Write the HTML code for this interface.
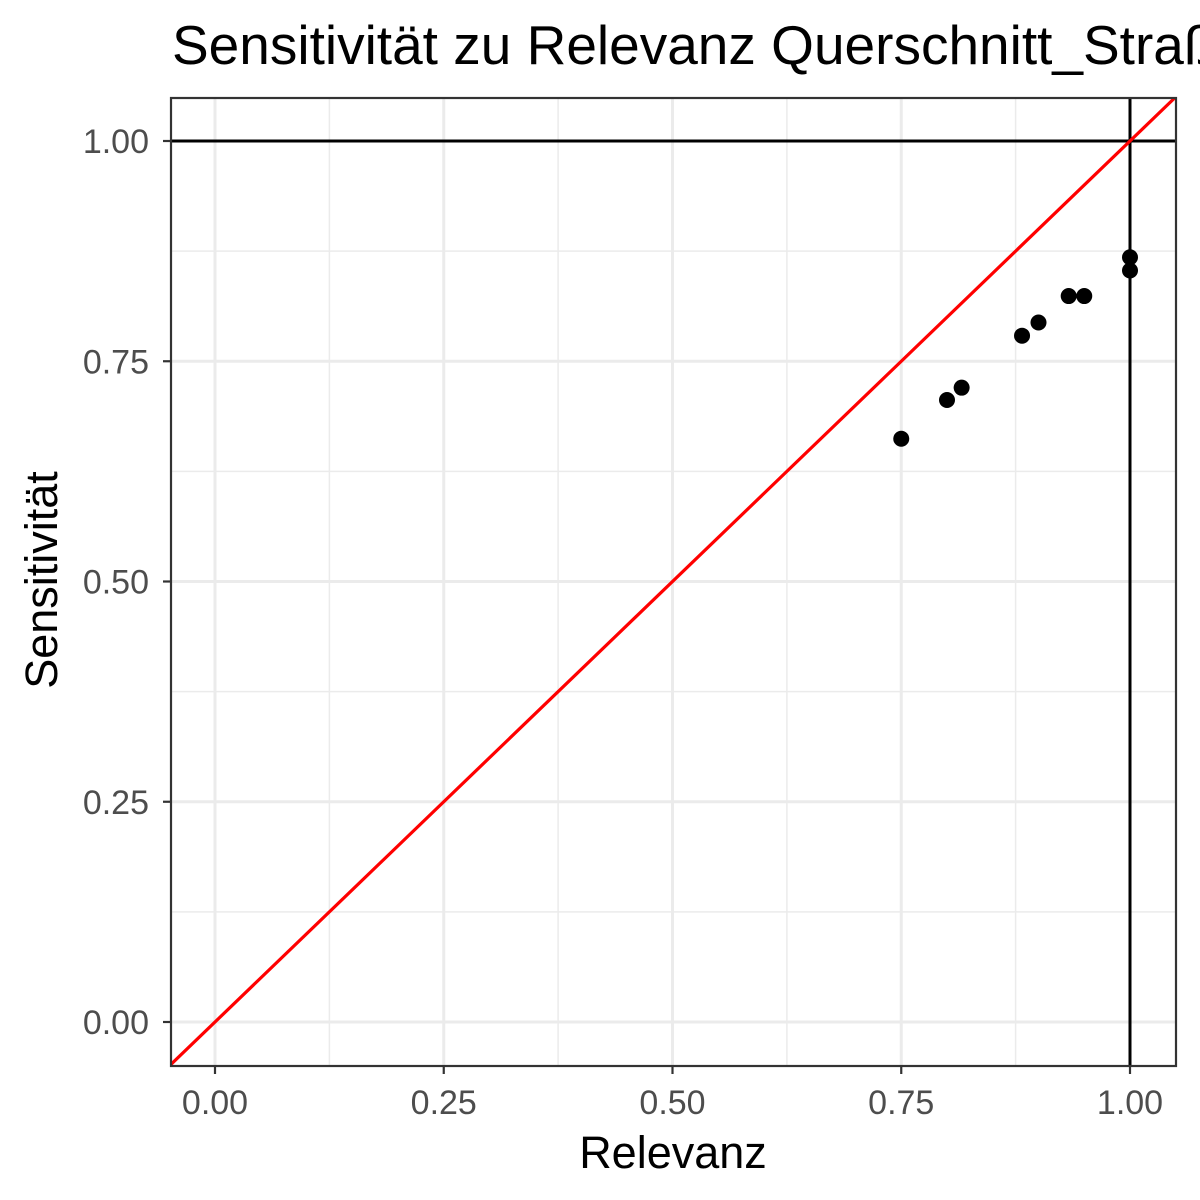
<!DOCTYPE html>
<html><head><meta charset="utf-8"><style>
html,body{margin:0;padding:0;background:#fff;}
svg{display:block;font-family:"Liberation Sans",Arial,sans-serif;}
</style></head><body>
<svg id="chart" width="1200" height="1200" viewBox="0 0 1200 1200">
<text x="172" y="64" font-size="55" fill="#000">Sensitivität zu Relevanz Querschnitt_Straße</text>
<defs><clipPath id="pc"><rect x="171" y="98" width="1005" height="968"/></clipPath></defs>
<rect x="171" y="98" width="1005" height="968" fill="#fff"/>
<g id="grid" clip-path="url(#pc)"></g>
<g id="marks" clip-path="url(#pc)"></g>
<rect x="171" y="98" width="1005" height="968" fill="none" stroke="#333" stroke-width="2.2"/>
<g id="axes"></g>
<text x="673" y="1168" font-size="45" text-anchor="middle" fill="#000">Relevanz</text>
<text transform="translate(57,580) rotate(-90)" font-size="45" text-anchor="middle" fill="#000">Sensitivität</text>
</svg>
<script>
const relevanz = [0.75, 0.8, 0.816, 0.882, 0.9, 0.933, 0.95, 1.0, 1.0];
const sensitivitaet = [0.662, 0.706, 0.72, 0.779, 0.794, 0.824, 0.824, 0.868, 0.853];
const tickValues = [0, 0.25, 0.5, 0.75, 1];
const tickLabels = ["0.00", "0.25", "0.50", "0.75", "1.00"];
const minorValues = [0.125, 0.375, 0.625, 0.875];
const refLineX = 1, refLineY = 1;

const NS = "http://www.w3.org/2000/svg";
const X0 = 215, X1 = 1130, Y0 = 1022, Y1 = 141;
const sx = v => X0 + (X1 - X0) * v;
const sy = v => Y0 + (Y1 - Y0) * v;
function mk(tag, attrs, parent) {
  const e = document.createElementNS(NS, tag);
  for (const k in attrs) e.setAttribute(k, attrs[k]);
  parent.appendChild(e); return e;
}
const grid = document.getElementById('grid'), marks = document.getElementById('marks'), axes = document.getElementById('axes');
minorValues.forEach(v => {
  let l = mk('line', {x1: sx(v), x2: sx(v), y1: 98, y2: 1066, stroke: '#ebebeb', 'stroke-width': 1.5}, grid);
  
  
  l = mk('line', {x1: 171, x2: 1176, y1: sy(v), y2: sy(v), stroke: '#ebebeb', 'stroke-width': 1.5}, grid);
  
  
});
tickValues.forEach((v, i) => {
  let l = mk('line', {x1: sx(v), x2: sx(v), y1: 98, y2: 1066, stroke: '#ebebeb', 'stroke-width': 3}, grid);
  
  
  l = mk('line', {x1: 171, x2: 1176, y1: sy(v), y2: sy(v), stroke: '#ebebeb', 'stroke-width': 3}, grid);
  
  
  let t = mk('line', {x1: sx(v), x2: sx(v), y1: 1066, y2: 1074, stroke: '#333', 'stroke-width': 2.2}, axes);
  
  
  t = mk('line', {x1: 163, x2: 171, y1: sy(v), y2: sy(v), stroke: '#333', 'stroke-width': 2.2}, axes);
  
  
  let tx = mk('text', {x: sx(v), y: 1114, 'font-size': 34, fill: '#4d4d4d', 'text-anchor': 'middle'}, axes);
  tx.textContent = tickLabels[i];
  
  
  tx = mk('text', {x: 149, y: sy(v) + 12, 'font-size': 34, fill: '#4d4d4d', 'text-anchor': 'end'}, axes);
  tx.textContent = tickLabels[i];
  
  
});
let h = mk('line', {x1: 171, x2: 1176, y1: sy(refLineY), y2: sy(refLineY), stroke: '#000', 'stroke-width': 3}, marks);


let vl = mk('line', {x1: sx(refLineX), x2: sx(refLineX), y1: 98, y2: 1066, stroke: '#000', 'stroke-width': 3}, marks);


relevanz.forEach((r, i) => {
  const c = mk('circle', {cx: sx(r), cy: sy(sensitivitaet[i]), r: 8, fill: '#000'}, marks);
  
  
});
let d = mk('line', {x1: sx(-0.1), y1: sy(-0.1), x2: sx(1.1), y2: sy(1.1), stroke: '#ff0000', 'stroke-width': 3.2}, marks);


</script>
</body></html>
